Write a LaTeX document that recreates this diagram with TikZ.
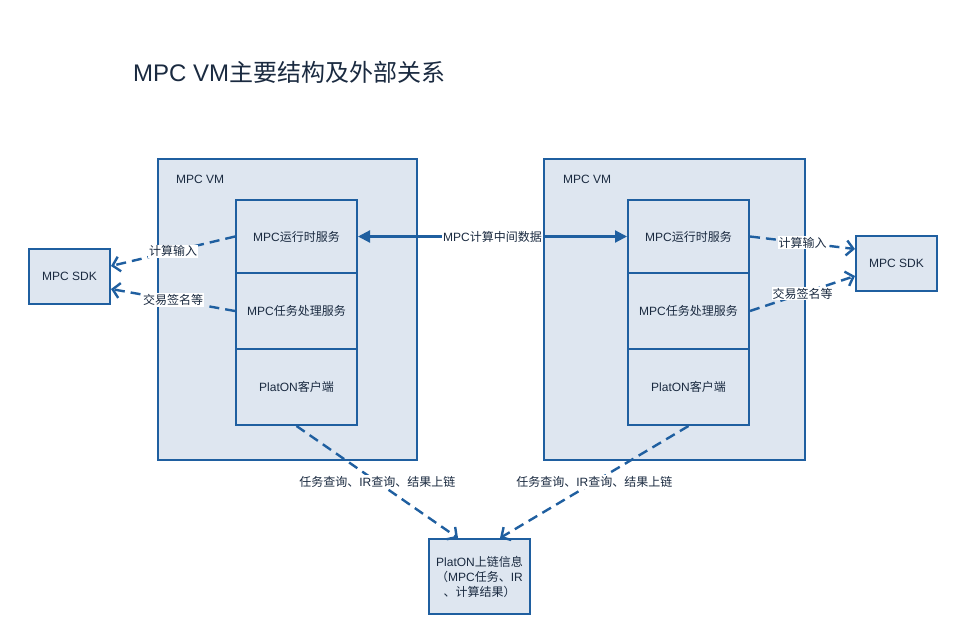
\documentclass[tikz,border=0pt]{standalone}
\usepackage{fontspec}
\setmainfont{Liberation Sans}
\newfontfamily\cjk{Noto Sans CJK SC}
\newcommand{\zh}[1]{{\cjk #1}}
\usetikzlibrary{arrows.meta}
\definecolor{bfill}{HTML}{DEE6F0}
\definecolor{bline}{HTML}{1F5FA0}
\definecolor{txt}{HTML}{1A2A40}
\begin{document}
\begin{tikzpicture}[x=1pt,y=-1pt,
  box/.style={draw=bline, fill=bfill, line width=2pt, inner sep=2pt, text=txt,
    font=\fontsize{12}{15}\selectfont, align=center},
  lbl/.style={fill=white, inner sep=1pt, text=txt, font=\fontsize{12}{14}\selectfont},
  dsh/.style={draw=bline, line width=2.4pt, dash pattern=on 10pt off 6pt,
    -{Straight Barb[length=7pt,width=15pt]}},
  mid/.style={draw=bline, line width=2.2pt,
    {Triangle[length=12pt,width=12pt]}-{Triangle[length=12pt,width=12pt]}}
]
\useasboundingbox (0,0) rectangle (957,635);
\fill[white] (0,0) rectangle (957,635);

% title
\node[anchor=west, text=txt, font=\fontsize{24}{27}\selectfont, inner sep=0] (title) at (133,72) {MPC VM\zh{主要结构及外部关系}};

% VM containers
\node[box, minimum width=259, minimum height=301] (vmL) at (287.5,309.5) {};
\node[box, minimum width=261, minimum height=301] (vmR) at (674.5,309.5) {};
\node[anchor=west, text=txt, font=\fontsize{12}{14}\selectfont, inner sep=0] (vmLt) at (176,179) {MPC VM};
\node[anchor=west, text=txt, font=\fontsize{12}{14}\selectfont, inner sep=0] (vmRt) at (563,179) {MPC VM};

% inner boxes left
\node[box, minimum width=121, minimum height=73] (rtL) at (296.5,236.5) {MPC\zh{运行时服务}};
\node[box, minimum width=121, minimum height=76] (tpL) at (296.5,311) {MPC\zh{任务处理服务}};
\node[box, minimum width=121, minimum height=76] (pcL) at (296.5,387) {PlatON\zh{客户端}};
% inner boxes right
\node[box, minimum width=121, minimum height=73] (rtR) at (688.5,236.5) {MPC\zh{运行时服务}};
\node[box, minimum width=121, minimum height=76] (tpR) at (688.5,311) {MPC\zh{任务处理服务}};
\node[box, minimum width=121, minimum height=76] (pcR) at (688.5,387) {PlatON\zh{客户端}};

% SDKs
\node[box, minimum width=81, minimum height=55] (sdkL) at (69.5,276.5) {MPC SDK};
\node[box, minimum width=81, minimum height=55] (sdkR) at (896.5,263.5) {MPC SDK};

% bottom
\node[box, minimum width=101, minimum height=75] (bot) at (479.5,576.5) {PlatON\zh{上链信息}\\\zh{（}MPC\zh{任务、}IR\\\zh{、计算结果）}};

% middle arrow
\draw[mid] (rtL.east) -- node[lbl] (midl) {MPC\zh{计算中间数据}} (rtR.west);

% left dashed
\draw[dsh] (rtL.west) -- node[lbl] (l1) {\zh{计算输入}} ([yshift=10.5pt]sdkL.east);
\draw[dsh] (tpL.west) -- node[lbl] (l2) {\zh{交易签名等}} ([yshift=-12.5pt]sdkL.east);
% right dashed
\draw[dsh] (rtR.east) -- node[lbl] (r1) {\zh{计算输入}} ([yshift=14.5pt]sdkR.west);
\draw[dsh] (tpR.east) -- node[lbl] (r2) {\zh{交易签名等}} ([yshift=-12.5pt]sdkR.west);
% bottom dashed
\draw[dsh] (pcL.south) -- node[lbl] (b1) {\zh{任务查询、}IR\zh{查询、结果上链}} ([xshift=-21.5pt]bot.north);
\draw[dsh] (pcR.south) -- node[lbl] (b2) {\zh{任务查询、}IR\zh{查询、结果上链}} ([xshift=20.5pt]bot.north);
\end{tikzpicture}
\end{document}
